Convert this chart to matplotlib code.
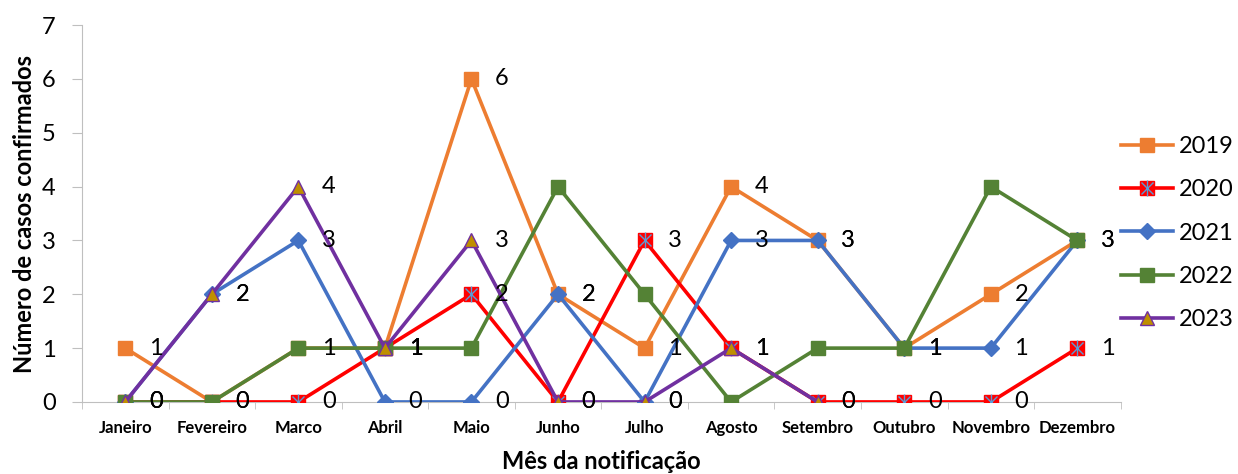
import numpy as np
import matplotlib.pyplot as plt
from matplotlib.legend_handler import HandlerTuple

meses = ['Janeiro', 'Fevereiro', 'Marco', 'Abril', 'Maio', 'Junho', 'Julho',
         'Agosto', 'Setembro', 'Outubro', 'Novembro', 'Dezembro']

casos_2019 = [1, 0, 1, 1, 6, 2, 1, 4, 3, 1, 2, 3]
casos_2020 = [0, 0, 0, 1, 2, 0, 3, 1, 0, 0, 0, 1]
casos_2021 = [0, 2, 3, 0, 0, 2, 0, 3, 3, 1, 1, 3]
casos_2022 = [0, 0, 1, 1, 1, 4, 2, 0, 1, 1, 4, 3]
casos_2023 = [0, 2, 4, 1, 3, 0, 0, 1, 0, np.nan, np.nan, np.nan]

plt.rcParams['font.family'] = ['Lato', 'DejaVu Sans']

fig = plt.figure(figsize=(12.38, 4.74), dpi=100)
ax = fig.add_axes([0.0662, 0.152, 0.839, 0.795])

x = np.arange(len(meses))
lw = 2.6

l19, = ax.plot(x, casos_2019, color='#ED7D31', lw=lw, marker='s', ms=10,
               mec='#ED7D31', zorder=3)
l20, = ax.plot(x, casos_2020, color='#FF0000', lw=lw, marker='s', ms=10,
               mec='#FF0000', zorder=4)
s20a, = ax.plot(x, casos_2020, ls='none', marker='x', ms=9, mew=1.0,
                color='#5B9BD5', zorder=4.1)
s20b, = ax.plot(x, casos_2020, ls='none', marker='|', ms=11, mew=1.0,
                color='#5B9BD5', zorder=4.1)
l21, = ax.plot(x, casos_2021, color='#4472C4', lw=lw, marker='D', ms=8,
               mec='#4472C4', zorder=5)
l22, = ax.plot(x, casos_2022, color='#548235', lw=lw, marker='s', ms=10,
               mec='#548235', zorder=6)
l23, = ax.plot(x, casos_2023, color='#7030A0', lw=lw, marker='^', ms=10,
               mfc='#BF8F00', mec='#7030A0', mew=1.0, zorder=7)

# rótulos de dados (2022 sem rótulo)
for serie in [casos_2019, casos_2020, casos_2021, casos_2023]:
    for i, v in enumerate(serie):
        if np.isnan(v):
            continue
        ax.annotate(str(int(v)), (i, v), xytext=(17, 0), textcoords='offset points',
                    va='center', ha='left', fontsize=17, zorder=10)

ax.set_xlim(-0.5, len(meses) - 0.5)
ax.set_ylim(0, 7)
ax.set_yticks(range(0, 8))
ax.set_xticks(x)
ax.set_xticklabels(meses, fontsize=12, fontweight='bold')
ax.set_xticks(np.arange(-0.5, len(meses)), minor=True)
ax.tick_params(axis='x', which='major', length=0, pad=13)
ax.tick_params(axis='x', which='minor', length=5, color='#BFBFBF', direction='out')
ax.tick_params(axis='y', labelsize=17, length=7, color='#BFBFBF', pad=12)

for s in ['top', 'right']:
    ax.spines[s].set_visible(False)
ax.spines['left'].set_color('#BFBFBF')
ax.spines['bottom'].set_color('#BFBFBF')

ax.set_xlabel('Mês da notificação', fontsize=17, fontweight='bold', labelpad=10)
ax.set_ylabel('Número de casos confirmados', fontsize=17, fontweight='bold', labelpad=4)

ax.legend([l19, (l20, s20a, s20b), l21, l22, l23], ['2019', '2020', '2021', '2022', '2023'],
          handler_map={tuple: HandlerTuple(ndivide=1, pad=0)},
          loc='center left', bbox_to_anchor=(1.0, 0.448), frameon=False,
          fontsize=17, handlelength=2.2, labelspacing=0.95, handletextpad=0.25,
          borderaxespad=0, borderpad=0)

fig.savefig('out.png', dpi=100)
